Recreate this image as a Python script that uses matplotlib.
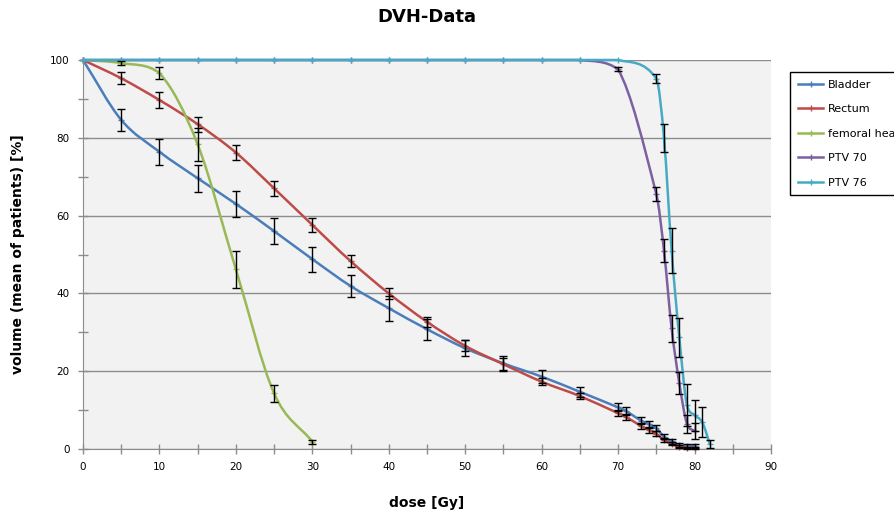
import numpy as np
import matplotlib
matplotlib.use("Agg")
import matplotlib.pyplot as plt
from matplotlib.path import Path
from matplotlib.patches import PathPatch
from matplotlib.lines import Line2D

# data (dose in Gy, volume in %)
bladder_dose = [0, 5, 10, 15, 20, 25, 30, 35, 40, 45, 50, 55, 60, 65, 70, 71, 73, 74, 75, 76, 77, 78, 79, 80]
bladder_vol = [100, 84.6, 76.4, 69.6, 63, 56, 48.8, 41.9, 36.2, 30.8, 25.9, 22, 18.6, 14.7,
               10.7, 9.8, 7.3, 6.4, 5.3, 3.2, 2.0, 1.0, 0.8, 0.8]
bladder_err = [0, 2.9, 3.3, 3.5, 3.4, 3.3, 3.2, 2.8, 3.2, 2.7, 2.0, 1.8, 1.6, 1.3,
               1.0, 1.0, 0.9, 0.9, 0.8, 0.7, 0.6, 0.5, 0.5, 0.5]

rectum_dose = [0, 5, 10, 15, 20, 25, 30, 35, 40, 45, 50, 55, 60, 65, 70, 71, 73, 74, 75, 76, 77, 78, 79, 80]
rectum_vol = [100, 95.3, 89.7, 83.5, 76.2, 67, 57.6, 48.3, 40, 32.7, 26.5, 21.8, 17.3, 13.6,
              9.2, 8.3, 5.9, 4.9, 3.9, 2.3, 1.3, 0.6, 0.3, 0.3]
rectum_err = [0, 1.5, 2.0, 1.9, 2.0, 2.0, 1.8, 1.5, 1.4, 1.3, 1.4, 1.7, 0.9, 0.8,
              0.8, 0.8, 0.7, 0.7, 0.6, 0.5, 0.4, 0.3, 0.3, 0.3]

femoral_dose = [0, 5, 10, 15, 20, 25, 30]
femoral_vol = [100, 99.2, 96.6, 78.3, 46.2, 14.3, 1.9]
femoral_err = [0, 0.5, 1.5, 4.2, 4.8, 2.2, 0.5]

ptv70_dose = [0, 5, 10, 15, 20, 25, 30, 35, 40, 45, 50, 55, 60, 65, 70, 75, 76, 77, 78, 79, 80]
ptv70_vol = [100, 100, 100, 100, 100, 100, 100, 100, 100, 100, 100, 100, 100, 100,
             97.6, 65.5, 51, 31, 17, 6.5, 4.6]
ptv70_err = [0, 0, 0, 0, 0, 0, 0, 0, 0, 0, 0, 0, 0, 0,
             0.5, 1.8, 3.0, 3.5, 2.8, 2.3, 2.0]

ptv76_dose = [0, 5, 10, 15, 20, 25, 30, 35, 40, 45, 50, 55, 60, 65, 70, 75, 76, 77, 78, 79, 80, 81, 82]
ptv76_vol = [100, 100, 100, 100, 100, 100, 100, 100, 100, 100, 100, 100, 100, 100, 100,
             95.2, 80, 51, 28.7, 11.3, 8.7, 6.9, 1.3]
ptv76_err = [0, 0, 0, 0, 0, 0, 0, 0, 0, 0, 0, 0, 0, 0, 0,
             1.2, 3.6, 5.8, 5.0, 5.3, 4.0, 3.9, 1.0]

series = [
    ("Bladder", bladder_dose, bladder_vol, bladder_err, "#4a7ebb"),
    ("Rectum", rectum_dose, rectum_vol, rectum_err, "#be4b48"),
    ("femoral head", femoral_dose, femoral_vol, femoral_err, "#98b954"),
    ("PTV 70", ptv70_dose, ptv70_vol, ptv70_err, "#7d60a0"),
    ("PTV 76", ptv76_dose, ptv76_vol, ptv76_err, "#46aac5"),
]


def smooth_path(x, y):
    # cubic bezier through the points, catmull-rom style tangents (Excel "smoothed line"),
    # control points kept inside each segment's y range so nothing pokes above 100 %
    x = np.asarray(x, float)
    y = np.asarray(y, float)
    h = np.diff(x)
    d = np.diff(y) / h
    m = np.zeros_like(x)
    m[0], m[-1] = d[0], d[-1]
    for k in range(1, len(x) - 1):
        if d[k - 1] * d[k] >= 0:
            m[k] = (y[k + 1] - y[k - 1]) / (x[k + 1] - x[k - 1])
    verts = [(x[0], y[0])]
    codes = [Path.MOVETO]
    for k in range(len(x) - 1):
        lo, hi = min(y[k], y[k + 1]), max(y[k], y[k + 1])
        c1 = np.clip(y[k] + m[k] * h[k] / 3, lo, hi)
        c2 = np.clip(y[k + 1] - m[k + 1] * h[k] / 3, lo, hi)
        verts += [(x[k] + h[k] / 3, c1), (x[k + 1] - h[k] / 3, c2), (x[k + 1], y[k + 1])]
        codes += [Path.CURVE4] * 3
    return Path(verts, codes)


fig = plt.figure(figsize=(8.94, 5.13), dpi=100)
ax = fig.add_axes([83 / 894, 1 - 449 / 513, 688 / 894, 389 / 513])
ax.set_facecolor("#f2f2f2")

handles = []
for i, (name, xs, ys, errs, color) in enumerate(series):
    ax.add_patch(PathPatch(smooth_path(xs, ys), facecolor="none", edgecolor=color,
                           lw=1.8, zorder=3 + i, clip_on=False))
    ax.plot(xs, ys, ls="none", marker="+", ms=4, mew=1, color=color, zorder=3 + i, clip_on=False)
    handles.append(Line2D([], [], color=color, lw=1.8, marker="+", ms=4, mew=1, label=name))

for name, xs, ys, errs, color in series:
    xs_e = [a for a, e in zip(xs, errs) if e > 0]
    ys_e = [b for b, e in zip(ys, errs) if e > 0]
    es = [e for e in errs if e > 0]
    ax.errorbar(xs_e, ys_e, yerr=es, fmt="none", ecolor="black", elinewidth=1,
                capsize=3, capthick=1, zorder=10, clip_on=False)

ax.set_xlim(0, 90)
ax.set_ylim(0, 100)
ax.set_xticks(np.arange(0, 91, 10))
ax.set_xticks(np.arange(0, 91, 5), minor=True)
ax.set_yticks(np.arange(0, 101, 20))
ax.set_yticks(np.arange(0, 101, 10), minor=True)
ax.yaxis.grid(True, which="major", color="#8c8c8c", lw=1)
ax.set_axisbelow(True)

for s in ["top", "right"]:
    ax.spines[s].set_visible(False)
for s in ["left", "bottom"]:
    ax.spines[s].set_color("#8c8c8c")
ax.tick_params(which="both", direction="inout", color="#8c8c8c", labelsize=7.5, width=1)
ax.tick_params(which="major", length=7, pad=6)
ax.tick_params(which="minor", length=7)

ax.set_title("DVH-Data", fontsize=13, fontweight="bold", pad=27)
ax.set_xlabel("dose [Gy]", fontsize=10, fontweight="bold", labelpad=17)
ax.set_ylabel("volume (mean of patients) [%]", fontsize=10, fontweight="bold", labelpad=18)

leg = fig.legend(handles=handles, loc="upper left", bbox_to_anchor=(790 / 894, 1 - 72 / 513),
                 bbox_transform=fig.transFigure, borderaxespad=0, fontsize=8, fancybox=False,
                 handlelength=2.3, handletextpad=0.4, labelspacing=1.3, borderpad=0.7,
                 framealpha=1)
leg.get_frame().set_edgecolor("black")
leg.get_frame().set_linewidth(1)

fig.savefig("out.png", dpi=100)
